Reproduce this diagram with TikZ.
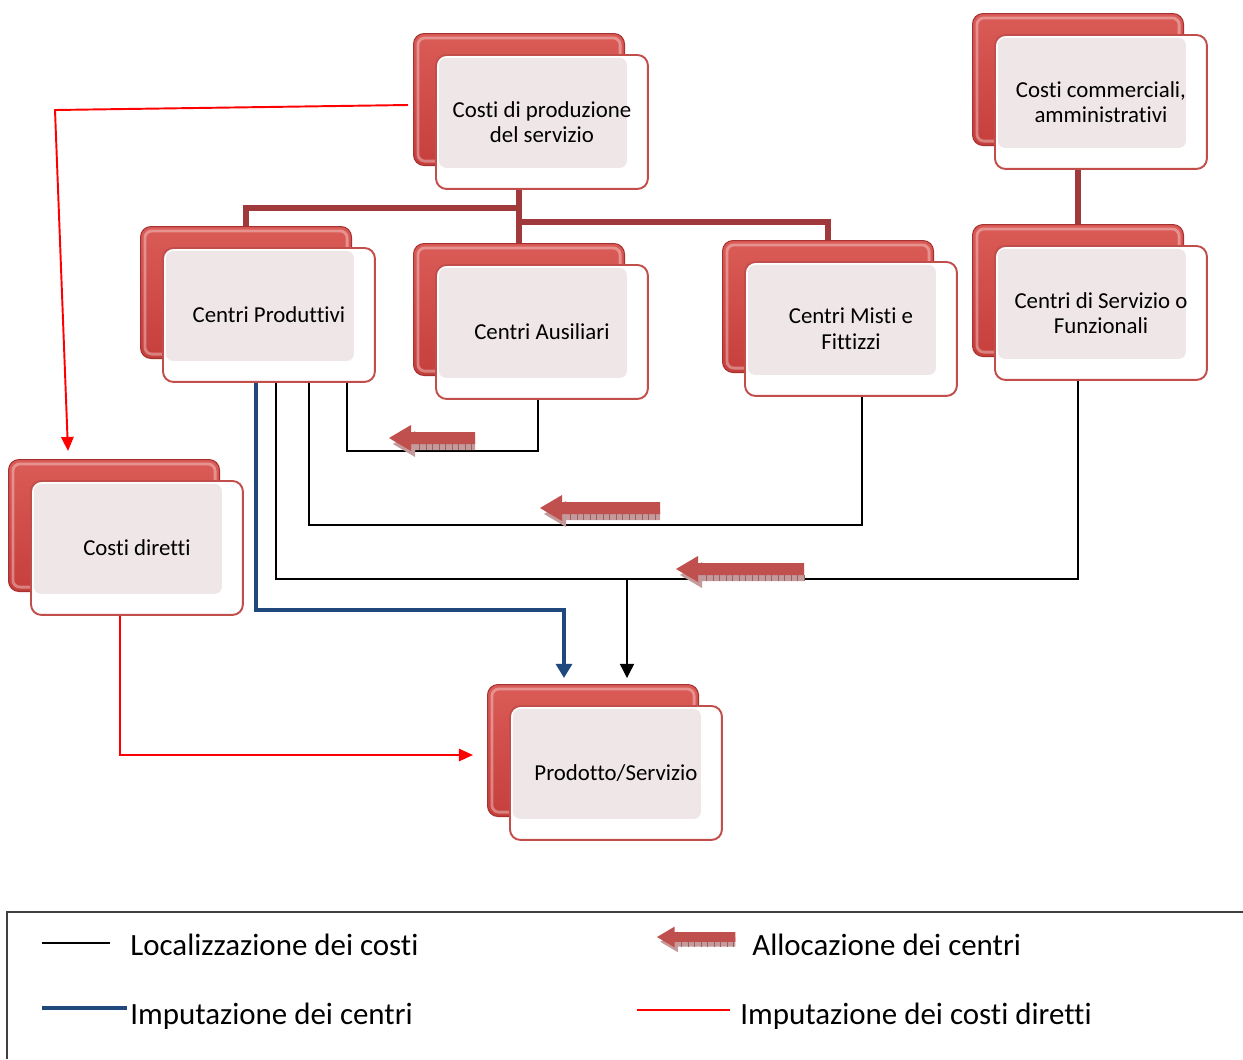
\documentclass[tikz,border=0pt]{standalone}
\usepackage{fontspec}
\setmainfont[Ligatures=NoCommon]{Carlito}
\usetikzlibrary{arrows.meta,backgrounds,calc}

\definecolor{cardred}{HTML}{C63F3C}
\definecolor{cardredlight}{HTML}{DA5B57}
\definecolor{cardedge}{HTML}{A63131}
\definecolor{paneledge}{HTML}{C24E4B}
\definecolor{panelfill}{HTML}{EFE6E7}
\definecolor{treeline}{HTML}{A0393C}
\definecolor{navy}{HTML}{1F497D}
\definecolor{allocred}{HTML}{C0504D}
\definecolor{allocshadow}{HTML}{C49A9B}
\definecolor{alloctick}{HTML}{9A6062}
\definecolor{framegray}{HTML}{404040}

% a card: red back plate with a light front panel carrying the label
\newcommand\card[4]{%
  \node[backcard, anchor=north west] (#1-b) at (#2,#3) {};
  \node[frontcard, anchor=north west] (#1) at (#2+22,#3+21) {#4};
}

% allocation arrow pointing left: tip x, centre y, length, scale
\newcommand\allocarrow[4]{%
  \begin{scope}[shift={(#1,#2)}, scale=#4]
    \fill[allocshadow] (4,6) -- (26,-7) -- (26,0) -- (#3,0) -- (#3,12)
      -- (26,12) -- (26,19) -- cycle;
    \draw[tickbar] (30,9) -- (#3,9);
    \fill[allocred] (0,0) -- (22,-13) -- (22,-6) -- (#3,-6) -- (#3,6)
      -- (22,6) -- (22,13) -- cycle;
  \end{scope}}

\begin{document}
\begin{tikzpicture}[x=0.02cm, y=-0.02cm,
  backcard/.style={rectangle, rounded corners=6pt, draw=cardedge, line width=0.6pt,
    top color=cardredlight, bottom color=cardred, inner sep=0pt,
    minimum width=4.22cm, minimum height=2.64cm,
    path picture={\draw[white, opacity=0.35, line width=1.6pt, rounded corners=4pt]
      ([shift={(2.5pt,-2.5pt)}]path picture bounding box.north west) rectangle
      ([shift={(-2.5pt,2.5pt)}]path picture bounding box.south east);}},
  frontcard/.style={rectangle, rounded corners=6pt, draw=paneledge, line width=1.1pt,
    fill=white, inner sep=0pt, align=center,
    minimum width=4.24cm, minimum height=2.68cm,
    font=\fontsize{13}{14.5}\selectfont,
    path picture={\fill[panelfill, rounded corners=4pt]
      ([shift={(1.7pt,-1.7pt)}]path picture bounding box.north west) rectangle
      ([shift={(-12pt,12pt)}]path picture bounding box.south east);}},
  tree/.style={treeline, line width=3.4pt},
  loc/.style={black, line width=0.75pt},
  imp/.style={navy, line width=2.3pt},
  dirc/.style={red, line width=1.1pt},
  tickbar/.style={alloctick, line width=3.2pt, dash pattern=on 0.5pt off 3.2pt},
  legtext/.style={font=\fontsize{17.6}{20}\selectfont, inner sep=0pt, anchor=base west},
]
\useasboundingbox (0,0) rectangle (1243,1059);

% cards
\card{cp}{413}{33}{Costi di produzione\\del servizio}
\card{cc}{972}{13}{Costi commerciali,\\amministrativi}
\card{cpr}{140}{226}{Centri Produttivi}
\card{aux}{413}{243}{Centri Ausiliari}
\card{mis}{722}{240}{Centri Misti e\\Fittizzi}
\card{srv}{972}{224}{Centri di Servizio o\\Funzionali}
\card{cd}{8}{459}{Costi diretti}
\card{prd}{487}{684}{Prodotto/Servizio}

\begin{scope}[on background layer]
  % hierarchy
  \draw[tree] (cp-b.south) -- (aux-b.north);
  \draw[tree] (cp-b.south |- 0,208) -| (cpr-b.north);
  \draw[tree] (cp-b.south |- 0,222) -| (mis-b.north);
  \draw[tree] (cc-b.south) -- (srv-b.north);
  % cost localisation
  \draw[loc] (aux.south -| 538,0) |- (347,451) -- (cpr.south -| 347,0);
  \draw[loc] (mis.south -| 862,0) |- (309,525) -- (cpr.south -| 309,0);
  \draw[loc] (srv.south -| 1078,0) |- (276,579) -- (cpr.south -| 276,0);
  \coordinate (jn) at (627,579);
  \draw[loc, -{Triangle[width=8pt, length=8pt]}] (jn) -- ($(prd-b.north -| jn)+(0,-6)$);
  % charging of the centres
  \draw[imp, -{Triangle[width=9pt, length=8pt]}]
    (cpr.south -| 256,0) |- (564,610) -- ($(prd-b.north -| 564,0)+(0,-6)$);
  % direct costs
  \draw[dirc, -{Triangle[width=7pt, length=8pt]}]
    ($(cp-b.west |- 0,105)+(-5,0)$) -- (55,110) -- ($(cd-b.north -| 68,0)+(0,-8)$);
  \draw[dirc, -{Triangle[width=7pt, length=8pt]}]
    (cd.south -| 120,0) |- ($(prd-b.west |- 0,755)+(-14,0)$);
\end{scope}

% allocation arrows
\allocarrow{389}{438}{86}{1}
\allocarrow{540}{508}{120}{1}
\allocarrow{676}{569}{128}{1}

% legend
\draw[framegray, line width=0.9pt] (1243,912) -- (7,912) -- (7,1059);
\coordinate (k1a) at (42,943);  \coordinate (k1b) at (110,943);
\draw[loc] (k1a) -- (k1b);
\node[legtext] (t1) at (130,955) {Localizzazione dei costi};
\coordinate (k2a) at (42,1008); \coordinate (k2b) at (127,1008);
\draw[imp, line width=2.8pt] (k2a) -- (k2b);
\node[legtext] (t2) at (130,1024) {Imputazione dei centri};
\allocarrow{657}{937}{98}{0.8}
\node[legtext] (t3) at (752,955) {Allocazione dei centri};
\coordinate (k4a) at (637,1010); \coordinate (k4b) at (730,1010);
\draw[dirc, line width=1.4pt] (k4a) -- (k4b);
\node[legtext] (t4) at (740,1024) {Imputazione dei costi diretti};
\end{tikzpicture}
\end{document}
